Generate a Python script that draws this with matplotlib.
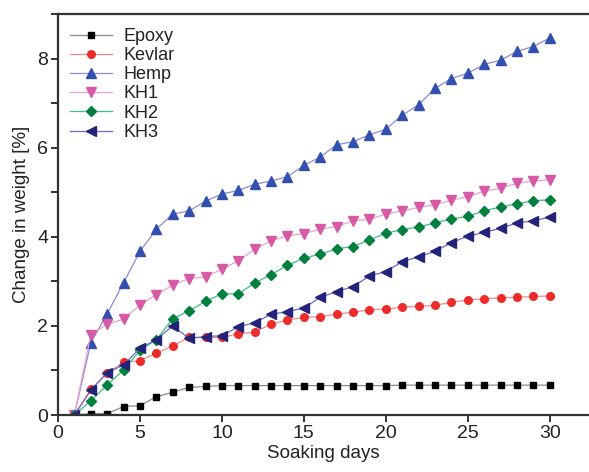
import matplotlib
matplotlib.use("Agg")
import matplotlib.pyplot as plt
from matplotlib.ticker import MultipleLocator

plt.rcParams['font.family'] = ['Liberation Sans', 'DejaVu Sans']

# Данные: изменение массы (%) по дням замачивания
days = list(range(1, 31))
epoxy = [0, 0.03, 0.03, 0.19, 0.21, 0.41, 0.51, 0.62, 0.64, 0.66,
         0.66, 0.66, 0.66, 0.66, 0.66, 0.66, 0.66, 0.66, 0.66, 0.66,
         0.67, 0.67, 0.67, 0.67, 0.67, 0.67, 0.67, 0.67, 0.67, 0.67]
kevlar = [0, 0.58, 0.94, 1.18, 1.22, 1.39, 1.55, 1.74, 1.74, 1.74,
          1.82, 1.86, 2.04, 2.13, 2.19, 2.21, 2.26, 2.31, 2.36, 2.38,
          2.42, 2.44, 2.46, 2.53, 2.58, 2.61, 2.63, 2.64, 2.66, 2.67]
hemp = [0, 1.62, 2.27, 2.97, 3.67, 4.17, 4.51, 4.58, 4.80, 4.96,
        5.04, 5.18, 5.25, 5.35, 5.60, 5.79, 6.07, 6.13, 6.29, 6.41,
        6.73, 6.96, 7.33, 7.55, 7.67, 7.87, 7.96, 8.16, 8.27, 8.46]
kh1 = [0, 1.80, 2.04, 2.15, 2.47, 2.70, 2.92, 3.06, 3.10, 3.27,
       3.46, 3.72, 3.91, 4.02, 4.07, 4.17, 4.23, 4.36, 4.39, 4.51,
       4.58, 4.66, 4.72, 4.82, 4.90, 5.02, 5.09, 5.20, 5.25, 5.28]
kh2 = [0, 0.32, 0.67, 1.01, 1.45, 1.69, 2.16, 2.34, 2.55, 2.72,
       2.72, 2.96, 3.15, 3.36, 3.52, 3.61, 3.73, 3.78, 3.93, 4.08,
       4.16, 4.22, 4.31, 4.40, 4.46, 4.58, 4.67, 4.74, 4.81, 4.83]
kh3 = [0, 0.55, 0.95, 1.12, 1.50, 1.69, 2.00, 1.72, 1.76, 1.78,
       1.98, 2.07, 2.26, 2.32, 2.40, 2.64, 2.77, 2.88, 3.12, 3.22,
       3.44, 3.55, 3.67, 3.87, 4.01, 4.10, 4.19, 4.31, 4.36, 4.44]

series = [
    ("Epoxy", epoxy, 's', '#000000', '#8a8a8a', 5),
    ("Kevlar", kevlar, 'o', '#ee2b2b', '#f28a8a', 5.5),
    ("Hemp", hemp, '^', '#3350b0', '#8c8cd8', 6.5),
    ("KH1", kh1, 'v', '#d65aa6', '#eaa2cc', 6.5),
    ("KH2", kh2, 'D', '#00803c', '#3cbf80', 5),
    ("KH3", kh3, '<', '#23237a', '#6a6ac4', 6.5),
]

fig = plt.figure(figsize=(5.89, 4.72), dpi=100)
ax = fig.add_axes([58 / 589, 57 / 472, 1 - 58 / 589, (415 - 14) / 472])

for name, vals, mk, mcol, lcol, ms in series:
    ax.plot(days, vals, color=lcol, lw=0.9, marker=mk, ms=ms,
            mfc=mcol, mec=mcol, label=name)

ax.set_xlim(0, 32.4)
ax.set_ylim(0, 9)
ax.xaxis.set_major_locator(MultipleLocator(5))
ax.yaxis.set_major_locator(MultipleLocator(2))
ax.yaxis.set_minor_locator(MultipleLocator(1))

for side in ['left', 'bottom', 'top']:
    ax.spines[side].set_linewidth(1.6)
    ax.spines[side].set_color('#333333')
ax.spines['right'].set_visible(False)
ax.tick_params(which='both', direction='out', length=5, width=1.4,
               color='#333333', labelsize=14, labelcolor='#222222')
ax.tick_params(axis='x', pad=2)
ax.tick_params(axis='y', pad=2)
ax.tick_params(top=False)

ax.set_xlabel("Soaking days", fontsize=13.5, color='#222222', labelpad=2)
ax.set_ylabel("Change in weight [%]", fontsize=13.5, color='#222222', labelpad=5)

ax.legend(loc='upper left', bbox_to_anchor=(70 / 589, 1 - 28 / 472),
          bbox_transform=fig.transFigure, frameon=False, fontsize=13,
          borderpad=0, borderaxespad=0, handlelength=2.35,
          handletextpad=0.6, labelspacing=0.12, labelcolor='#222222')

fig.savefig("out.png", dpi=100)
